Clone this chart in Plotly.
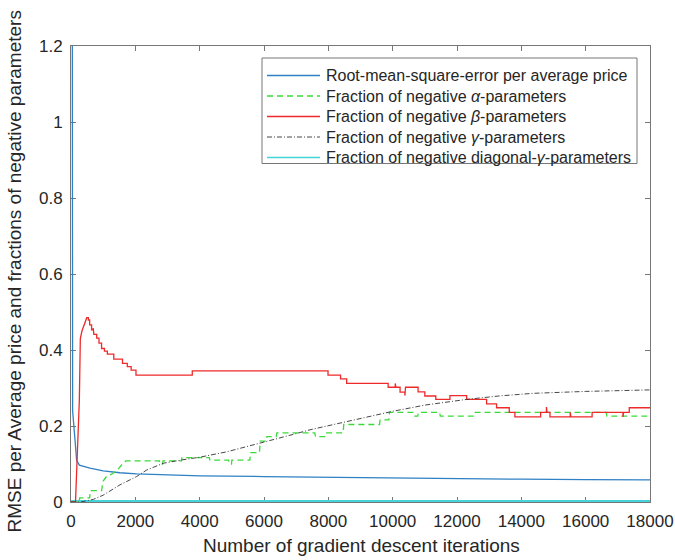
import plotly.graph_objects as go

# ---- data: gradient-descent diagnostics ----
rmse_iter = [40, 50, 125, 175, 260, 590, 1000, 1520, 2040, 3080, 4010, 6000, 8000,
             10000, 12000, 14000, 16000, 18000]
rmse_val = [1.35, 0.24, 0.163, 0.11, 0.097, 0.089, 0.082, 0.077, 0.074, 0.071, 0.069,
            0.067, 0.065, 0.063, 0.061, 0.060, 0.059, 0.058]

alpha_iter = [0, 250, 270, 580, 600, 950, 1000, 1100, 1300, 1450, 1600, 1700, 2750, 2760,
              2850, 2860, 3430, 3450, 4300, 4320, 4900, 4920, 4990, 5000, 5560, 5580, 5860,
              5880, 6070, 6090, 6380, 6400, 7580, 7600, 7890, 7910, 8460, 8480, 9590, 9610,
              9880, 9900, 10630, 10650, 10780, 10800, 11460, 11480, 12550, 12570, 16640,
              16660, 18000]
alpha_val = [0, 0, 0.011, 0.011, 0.03, 0.03, 0.055, 0.067, 0.075, 0.085, 0.100, 0.108,
             0.108, 0.100, 0.100, 0.108, 0.108, 0.117, 0.117, 0.110, 0.110, 0.100, 0.100,
             0.110, 0.110, 0.130, 0.130, 0.160, 0.160, 0.172, 0.172, 0.182, 0.182, 0.172,
             0.172, 0.182, 0.182, 0.204, 0.204, 0.216, 0.216, 0.236, 0.236, 0.226, 0.226,
             0.236, 0.236, 0.226, 0.226, 0.236, 0.236, 0.226, 0.226]

beta_iter = [0, 140, 260, 290, 340, 420, 490, 540, 540, 580, 580, 640, 640, 690, 690, 710,
             710, 800, 800, 870, 870, 950, 950, 1040, 1040, 1130, 1130, 1330, 1330, 1600,
             1600, 1750, 1750, 1870, 1870, 2020, 2020, 3770, 3770, 7990, 7990, 8380, 8380,
             8570, 8570, 9860, 9860, 10080, 10080, 10100, 10100, 10230, 10230, 10380, 10380,
             10400, 10400, 10790, 10790, 11000, 11000, 11340, 11340, 11780, 11780, 12300,
             12300, 12920, 12920, 13230, 13230, 13625, 13625, 13800, 13800, 14600, 14600,
             14780, 14780, 14800, 14800, 14890, 14890, 15520, 15520, 15540, 15540, 16200,
             16200, 17160, 17160, 17180, 17180, 17355, 17355, 18000]
beta_val = [0, 0, 0.27, 0.43, 0.45, 0.47, 0.485, 0.485, 0.479, 0.479, 0.466, 0.466, 0.453,
            0.453, 0.458, 0.458, 0.441, 0.441, 0.431, 0.431, 0.418, 0.418, 0.404, 0.404,
            0.397, 0.397, 0.389, 0.389, 0.376, 0.376, 0.365, 0.365, 0.356, 0.356, 0.347,
            0.347, 0.334, 0.334, 0.345, 0.345, 0.334, 0.334, 0.324, 0.324, 0.312, 0.312,
            0.302, 0.302, 0.312, 0.312, 0.302, 0.302, 0.289, 0.289, 0.280, 0.280, 0.302,
            0.302, 0.290, 0.290, 0.279, 0.279, 0.270, 0.270, 0.280, 0.280, 0.270, 0.270,
            0.258, 0.258, 0.248, 0.248, 0.236, 0.236, 0.224, 0.224, 0.236, 0.236, 0.250,
            0.250, 0.236, 0.236, 0.224, 0.224, 0.236, 0.236, 0.224, 0.224, 0.236, 0.236,
            0.224, 0.224, 0.236, 0.236, 0.248, 0.248]

gamma_iter = [0, 300, 700, 1000, 1520, 2040, 2350, 2870, 3390, 4010, 4840, 5875, 6910,
              7430, 8500, 10020, 11000, 12300, 13300, 14370, 16000, 18000]
gamma_val = [0, 0, 0.007, 0.018, 0.045, 0.067, 0.084, 0.102, 0.110, 0.118, 0.132, 0.154,
             0.178, 0.190, 0.210, 0.239, 0.255, 0.270, 0.279, 0.286, 0.291, 0.295]

diag_iter = [0, 18000]
diag_val = [0, 0]

x_ticks = [0, 2000, 4000, 6000, 8000, 10000, 12000, 14000, 16000, 18000]
y_ticks = [0, 0.2, 0.4, 0.6, 0.8, 1.0, 1.2]

legend_labels = [
    "Root-mean-square-error per average price",
    "Fraction of negative <i>α</i>-parameters",
    "Fraction of negative <i>β</i>-parameters",
    "Fraction of negative <i>γ</i>-parameters",
    "Fraction of negative diagonal-<i>γ</i>-parameters",
]

# ---- styling ----
W, H = 675, 560
L, R, T, B = 71, 650, 46, 502          # plot area in pixels
BLUE, GREEN, RED, BLACK, CYAN = "#2f80c4", "#3ada3a", "#ee2a2a", "#333333", "#45d3dc"
AXIS = "#777777"
TXT = "#262626"
FONT = "Liberation Sans, Arial, sans-serif"

styles = [
    dict(color=BLUE, width=1.3, dash="solid"),
    dict(color=GREEN, width=1.3, dash="6px,4px"),
    dict(color=RED, width=1.3, dash="solid"),
    dict(color=BLACK, width=0.9, dash="5px,2px,1px,2px"),
    dict(color=CYAN, width=4, dash="solid"),
]
series = [(rmse_iter, rmse_val), (alpha_iter, alpha_val), (beta_iter, beta_val),
          (gamma_iter, gamma_val), (diag_iter, diag_val)]


def px_x(p):
    return (p - L) / (R - L)


def px_y(p):
    return (B - p) / (B - T)


fig = go.Figure()
# draw the diagonal-gamma line first so the others sit over it
order = [4, 0, 1, 2, 3]
for i in order:
    (xs, ys), st, name = series[i], styles[i], legend_labels[i]
    fig.add_trace(go.Scatter(x=xs, y=ys, mode="lines", line=st, name=name,
                             showlegend=False, hoverinfo="skip"))

axis_common = dict(showgrid=False, zeroline=False, showline=True, linecolor=AXIS,
                   linewidth=1, mirror="ticks", ticks="inside", ticklen=5,
                   tickcolor=AXIS, tickwidth=1, layer="below traces",
                   tickfont=dict(family=FONT, size=17, color=TXT))

# hand-built legend box
shapes = [dict(type="rect", xref="paper", yref="paper",
               x0=px_x(262), x1=px_x(637), y0=px_y(163.5), y1=px_y(58),
               line=dict(color=AXIS, width=1), fillcolor="white", layer="above")]
annotations = []
row_y = [75.5, 96, 116.5, 137, 157.5]
for ry, st, label in zip(row_y, styles, legend_labels):
    shapes.append(dict(type="line", xref="paper", yref="paper",
                       x0=px_x(267), x1=px_x(320), y0=px_y(ry), y1=px_y(ry),
                       line=dict(color=st["color"], width=min(st["width"], 1.3),
                                 dash=st["dash"]), layer="above"))
    annotations.append(dict(xref="paper", yref="paper", x=px_x(324), y=px_y(ry),
                            xanchor="left", yanchor="middle", showarrow=False,
                            text=label, font=dict(family=FONT, size=16, color=TXT)))

# axis titles
annotations.append(dict(xref="paper", yref="paper", x=px_x(361), y=px_y(545),
                        xanchor="center", yanchor="middle", showarrow=False,
                        text="Number of gradient descent iterations",
                        font=dict(family=FONT, size=19, color=TXT)))
annotations.append(dict(xref="paper", yref="paper", x=px_x(14), y=px_y(271.5),
                        xanchor="center", yanchor="middle", showarrow=False,
                        textangle=-90,
                        text="RMSE per Average price and fractions of negative parameters",
                        font=dict(family=FONT, size=19, color=TXT)))

fig.update_layout(
    width=W, height=H,
    margin=dict(l=L, r=W - R, t=T, b=H - B, autoexpand=False),
    paper_bgcolor="white", plot_bgcolor="white",
    xaxis=dict(range=[0, 18000], tickvals=x_ticks,
               ticktext=[str(v) for v in x_ticks], ticklabelstandoff=4, **axis_common),
    yaxis=dict(range=[0, 1.2], tickvals=y_ticks,
               ticktext=["0", "0.2", "0.4", "0.6", "0.8", "1", "1.2"],
               ticklabelstandoff=4, **axis_common),
    shapes=shapes, annotations=annotations,
)

fig.write_html("out.html")
